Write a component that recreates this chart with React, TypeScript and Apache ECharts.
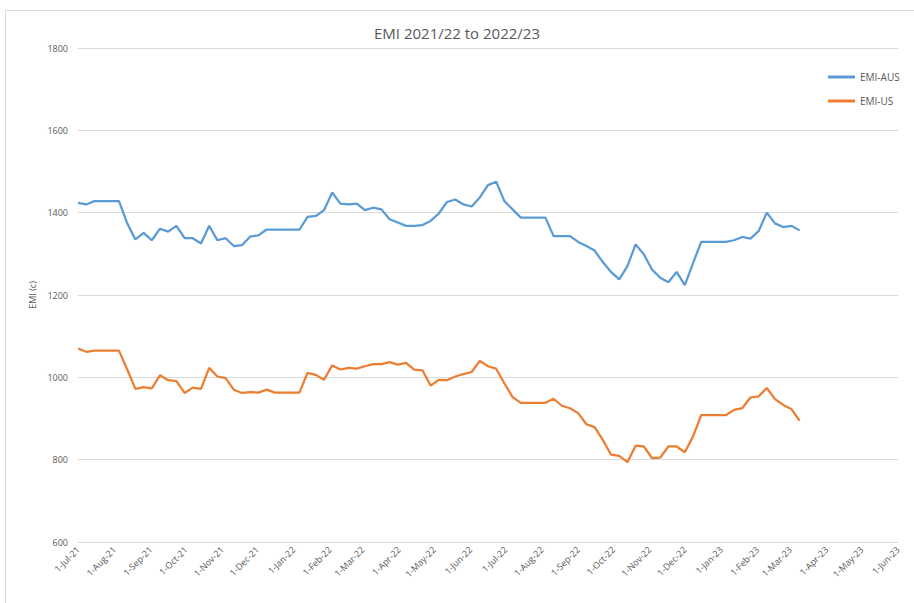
import React, { useEffect, useRef } from "react";
import * as echarts from "echarts";

const DAY = 24 * 3600 * 1000;
const START = Date.UTC(2021, 6, 1);
const WEEK_DAYS = 7;

const emiAus = [
  1424, 1420, 1428, 1428, 1428, 1428, 1374, 1335, 1351, 1333, 1361, 1354, 1368, 1338, 1338, 1325,
  1368, 1333, 1338, 1319, 1321, 1342, 1345, 1359, 1359, 1359, 1359, 1359, 1390, 1392, 1406, 1449,
  1422, 1420, 1422, 1406, 1412, 1408, 1384, 1376, 1368, 1368, 1370, 1380, 1398, 1426, 1432, 1420,
  1415, 1437, 1467, 1475, 1428, 1408, 1388, 1388, 1388, 1388, 1343, 1343, 1343, 1329, 1319, 1308,
  1280, 1256, 1238, 1270, 1323, 1299, 1262, 1242, 1231, 1256, 1224, 1277, 1329, 1329, 1329, 1329,
  1333, 1341, 1337, 1355, 1400, 1374, 1365, 1368, 1357,
];

const emiUs = [
  1070, 1062, 1065, 1065, 1065, 1065, 1019, 972, 976, 973, 1005, 993, 991, 962, 975, 972,
  1023, 1002, 998, 970, 962, 964, 963, 970, 963, 963, 963, 963, 1011, 1006, 994, 1029,
  1019, 1023, 1021, 1027, 1032, 1032, 1037, 1031, 1035, 1019, 1017, 980, 994, 993, 1002, 1008,
  1013, 1040, 1027, 1021, 985, 952, 938, 938, 938, 938, 948, 931, 925, 913, 886, 879,
  848, 812, 809, 794, 834, 832, 804, 805, 832, 832, 818, 856, 908, 908, 908, 908,
  921, 925, 951, 954, 974, 947, 933, 923, 895,
];

const tickMonths: [number, number][] = [
  [2021, 6], [2021, 7], [2021, 8], [2021, 9], [2021, 10], [2021, 11],
  [2022, 0], [2022, 1], [2022, 2], [2022, 3], [2022, 4], [2022, 5],
  [2022, 6], [2022, 7], [2022, 8], [2022, 9], [2022, 10], [2022, 11],
  [2023, 0], [2023, 1], [2023, 2], [2023, 3], [2023, 4], [2023, 5],
];
const tickLabels = [
  "1-Jul-21", "1-Aug-21", "1-Sep-21", "1-Oct-21", "1-Nov-21", "1-Dec-21",
  "1-Jan-22", "1-Feb-22", "1-Mar-22", "1-Apr-22", "1-May-22", "1-Jun-22",
  "1-Jul-22", "1-Aug-22", "1-Sep-22", "1-Oct-22", "1-Nov-22", "1-Dec-22",
  "1-Jan-23", "1-Feb-23", "1-Mar-23", "1-Apr-23", "1-May-23", "1-Jun-23",
];

export default function App() {
  const ref = useRef<HTMLDivElement>(null);
  useEffect(() => {
    if (!ref.current) return;
    const chart = echarts.init(ref.current, null, { renderer: "svg" });
    const tickDays = tickMonths.map(([y, m]) => Math.round((Date.UTC(y, m, 1) - START) / DAY));
    const labelFor = (v: number) => {
      const i = tickDays.findIndex((d) => Math.abs(d - v) < 0.5);
      return i >= 0 ? tickLabels[i] : "";
    };
    const font = "Open Sans, sans-serif";
    chart.setOption({
      animation: false,
      backgroundColor: "#ffffff",
      graphic: [
        {
          type: "rect",
          shape: { x: 5.5, y: 10.5, width: 920, height: 600 },
          style: { fill: "none", stroke: "#d9d9d9", lineWidth: 1 },
          silent: true,
        },
      ],
      title: {
        text: "EMI 2021/22 to 2022/23",
        left: "center",
        top: 20,
        textStyle: { fontFamily: font, fontSize: 15, fontWeight: "normal", color: "#595959" },
      },
      legend: {
        orient: "vertical",
        left: 823,
        top: 67,
        itemWidth: 27,
        itemHeight: 3,
        itemGap: 14,
        icon: "rect",
        textStyle: { fontFamily: font, fontSize: 10, color: "#595959" },
        data: ["EMI-AUS", "EMI-US"],
      },
      grid: { left: 78, right: 16, top: 48, bottom: 61, containLabel: false },
      xAxis: {
        type: "value",
        min: tickDays[0],
        max: tickDays[tickDays.length - 1],
        axisLine: { show: true, lineStyle: { color: "#d9d9d9" } },
        axisTick: { show: false },
        splitLine: { show: false },
        axisLabel: {
          customValues: tickDays,
          formatter: (v: number) => labelFor(v),
          rotate: 45,
          fontFamily: font,
          fontSize: 9,
          color: "#595959",
          margin: 6,
          hideOverlap: false,
          showMinLabel: true,
          showMaxLabel: true,
        },
      },
      yAxis: {
        type: "value",
        min: 600,
        max: 1800,
        interval: 200,
        name: "EMI (c)",
        nameLocation: "middle",
        nameGap: 40,
        nameRotate: 90,
        nameTextStyle: { fontFamily: font, fontSize: 9, color: "#595959" },
        axisLine: { show: false },
        axisTick: { show: false },
        splitLine: { lineStyle: { color: "#d9d9d9", width: 1 } },
        axisLabel: {
          fontFamily: font,
          fontSize: 9,
          color: "#595959",
          margin: 10,
          formatter: (v: number) => String(v),
        },
      },
      series: [
        {
          name: "EMI-AUS",
          type: "line",
          showSymbol: false,
          data: emiAus.map((v, i) => [i * WEEK_DAYS, v]),
          lineStyle: { color: "#5b9bd5", width: 2.25 },
          itemStyle: { color: "#5b9bd5" },
        },
        {
          name: "EMI-US",
          type: "line",
          showSymbol: false,
          data: emiUs.map((v, i) => [i * WEEK_DAYS, v]),
          lineStyle: { color: "#ed7d31", width: 2.25 },
          itemStyle: { color: "#ed7d31" },
        },
      ],
    });
    return () => chart.dispose();
  }, []);
  return (
    <div
      ref={ref}
      style={{ position: "fixed", left: 0, top: 0, width: 914, height: 603, background: "#fff" }}
    />
  );
}
